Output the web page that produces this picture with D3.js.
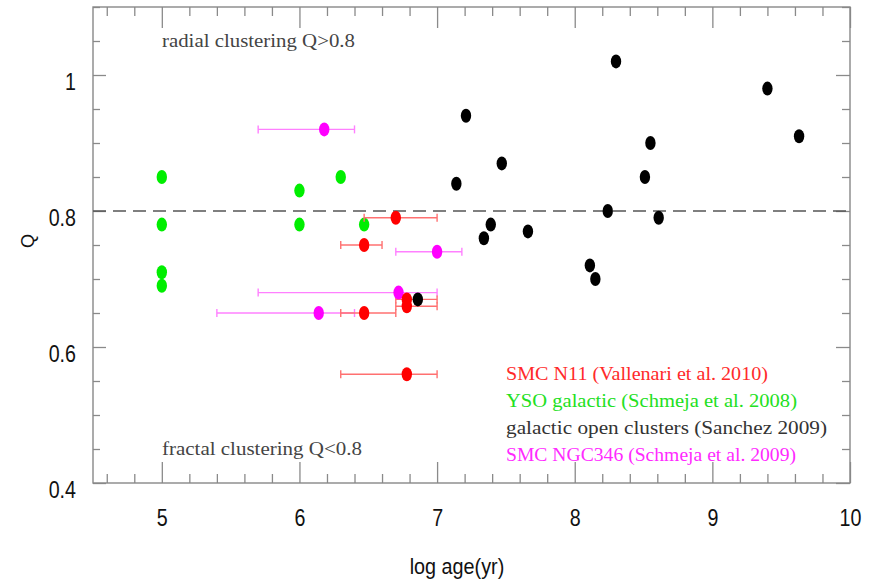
<!DOCTYPE html>
<html>
<head>
<meta charset="utf-8">
<script src="https://cdn.jsdelivr.net/npm/d3@7"></script>
<style>
  body { margin: 0; background: #fff; }
  svg { display: block; }
</style>
</head>
<body>
<div class="chart"></div>
<script>
// data
const ysoAge = [5, 5, 5, 5, 6, 6, 6.3, 6.47]
const ysoQ = [0.85, 0.78, 0.71, 0.69, 0.83, 0.78, 0.85, 0.78]

const ocAge = [6.86, 7.14, 7.21, 7.34, 7.39, 7.47, 7.66, 8.11, 8.15, 8.24, 8.30, 8.51, 8.55, 8.61, 9.40, 9.63]
const ocQ = [0.67, 0.84, 0.94, 0.76, 0.78, 0.87, 0.77, 0.72, 0.70, 0.80, 1.02, 0.85, 0.90, 0.79, 0.98, 0.91]

const n11Age = [6.70, 6.47, 6.47, 6.78, 6.78, 6.78]
const n11Q = [0.79, 0.75, 0.65, 0.67, 0.66, 0.56]
const n11Lo = [6.47, 6.3, 6.3, 6.7, 6.7, 6.3]
const n11Hi = [7.0, 6.6, 6.7, 7.0, 7.0, 7.0]

const ngcAge = [6.18, 7.0, 6.72, 6.14]
const ngcQ = [0.92, 0.74, 0.68, 0.65]
const ngcLo = [5.7, 6.7, 5.7, 5.4]
const ngcHi = [6.4, 7.18, 7.0, 6.4]

const xMajor = [5, 6, 7, 8, 9, 10]
const yMajor = [0.4, 0.6, 0.8, 1]
const yLabels = ["0.4", "0.6", "0.8", "1"]
const threshold = 0.8

const legendLabels = [
  "SMC N11 (Vallenari et al. 2010)",
  "YSO galactic (Schmeja et al. 2008)",
  "galactic open clusters (Sanchez 2009)",
  "SMC NGC346 (Schmeja et al. 2009)"
]
const noteLabels = ["radial clustering Q>0.8", "fractal clustering Q<0.8"]

// layout
const w = 877
const h = 581
const padL = 93, padR = 850, padT = 7, padB = 483
const narrow = 0.82 // horizontal squeeze for the tick numbers

const svg = d3.select(".chart")
  .append("svg")
  .attr("width", w)
  .attr("height", h)

const xScale = d3.scaleLinear().domain([4.5, 10]).range([padL, padR])
const yScale = d3.scaleLinear().domain([0.4, 1.1]).range([padB, padT])

const xMinor = d3.range(46, 100, 2).map(v => v / 10).filter(v => !Number.isInteger(v))
const yMinor = d3.range(40, 111, 5).map(v => v / 100).filter(v => !yMajor.some(m => Math.abs(m - v) < 1e-6))

const tickColor = "#8a8a8a"
const numFont = "'Liberation Sans', Arial, sans-serif"
const serifFont = "'Liberation Serif', 'DejaVu Serif', serif"

// helper to add an axis group and style it
const addAxis = (axis, tx, ty, labels) => {
  const g = svg.append("g")
    .attr("transform", "translate(" + tx + "," + ty + ")")
    .call(axis)
  g.select(".domain").remove()
  g.selectAll("line").attr("stroke", tickColor).attr("stroke-width", 1.3)
  if (!labels) g.selectAll("text").remove()
  else g.selectAll("text")
    .attr("font-family", numFont)
    .attr("font-size", 24)
    .attr("fill", "#111")
  return g
}

// bottom
addAxis(d3.axisBottom(xScale).tickValues(xMajor).tickSize(-21).tickPadding(26)
  .tickFormat(d3.format("d")), 0, padB, true)
  .selectAll("text")
  .attr("dy", "0.71em")
  .attr("transform", "scale(" + narrow + ",1)")
addAxis(d3.axisBottom(xScale).tickValues(xMinor).tickSize(-9), 0, padB, false)
// top
addAxis(d3.axisTop(xScale).tickValues(xMajor).tickSize(-21), 0, padT, false)
addAxis(d3.axisTop(xScale).tickValues(xMinor).tickSize(-9), 0, padT, false)
// left
addAxis(d3.axisLeft(yScale).tickValues(yMajor).tickSize(-13).tickPadding(17)
  .tickFormat((d, i) => yLabels[i]), padL, 0, true)
  .selectAll("text")
  .attr("dy", "0.62em")
  .attr("x", -17 / narrow)
  .attr("transform", "scale(" + narrow + ",1)")
addAxis(d3.axisLeft(yScale).tickValues(yMinor).tickSize(-7), padL, 0, false)
// right
addAxis(d3.axisRight(yScale).tickValues(yMajor).tickSize(-14), padR, 0, false)
addAxis(d3.axisRight(yScale).tickValues(yMinor).tickSize(-8), padR, 0, false)

// frame
svg.append("rect")
  .attr("x", padL).attr("y", padT)
  .attr("width", padR - padL).attr("height", padB - padT)
  .attr("fill", "none")
  .attr("stroke", "#888")
  .attr("stroke-width", 1.4)

// axis titles
svg.append("text")
  .attr("transform", "translate(457,574) scale(0.9,1)")
  .attr("text-anchor", "middle")
  .attr("font-family", "'Liberation Sans', Arial, sans-serif")
  .attr("font-size", 22)
  .attr("fill", "#111")
  .text("log age(yr)")

svg.append("text")
  .attr("transform", "translate(34,241) rotate(-90)")
  .attr("text-anchor", "middle")
  .attr("font-family", "'Liberation Sans', Arial, sans-serif")
  .attr("font-size", 18)
  .attr("fill", "#111")
  .text("Q")

// dashed Q = 0.8 line
svg.append("line")
  .attr("x1", xScale(4.5)).attr("x2", xScale(10))
  .attr("y1", yScale(threshold)).attr("y2", yScale(threshold))
  .attr("stroke", "#555")
  .attr("stroke-width", 1.4)
  .attr("stroke-dasharray", "13,7")

// annotations
const notes = [
  { x: 162, y: 47, len: 193 },
  { x: 162, y: 455, len: 200 }
]
noteLabels.forEach((t, i) => {
  svg.append("text")
    .attr("x", notes[i].x).attr("y", notes[i].y)
    .attr("font-family", serifFont)
    .attr("font-size", 18)
    .attr("fill", "#444")
    .attr("textLength", notes[i].len)
    .attr("lengthAdjust", "spacingAndGlyphs")
    .text(t)
})

// error bars
const errBars = (age, lo, hi, q, color) => {
  const g = svg.append("g").attr("stroke", color).attr("stroke-width", 1.4)
  q.forEach((v, i) => {
    const y = yScale(v)
    g.append("line").attr("x1", xScale(lo[i])).attr("x2", xScale(hi[i])).attr("y1", y).attr("y2", y)
    g.append("line").attr("x1", xScale(lo[i])).attr("x2", xScale(lo[i])).attr("y1", y - 4).attr("y2", y + 4)
    g.append("line").attr("x1", xScale(hi[i])).attr("x2", xScale(hi[i])).attr("y1", y - 4).attr("y2", y + 4)
  })
}

const dots = (age, q, color) => {
  svg.append("g").selectAll("ellipse")
    .data(age)
    .enter()
    .append("ellipse")
    .attr("cx", d => xScale(d))
    .attr("cy", (d, i) => yScale(q[i]))
    .attr("rx", 5.2)
    .attr("ry", 7)
    .attr("fill", color)
}

dots(ysoAge, ysoQ, "#00ee00")
errBars(ngcAge, ngcLo, ngcHi, ngcQ, "#ff80ff")
errBars(n11Age, n11Lo, n11Hi, n11Q, "#ff7070")
dots(ngcAge, ngcQ, "#ff00ff")
dots(n11Age, n11Q, "#ff0000")
dots(ocAge, ocQ, "#000")

// legend
const legendColors = ["#ff2a2a", "#22e022", "#333", "#ff2aff"]
const legendLens = [262, 291, 321, 290]
legendLabels.forEach((t, i) => {
  svg.append("text")
    .attr("x", 506).attr("y", 380 + i * 27)
    .attr("font-family", serifFont)
    .attr("font-size", 19)
    .attr("fill", legendColors[i])
    .attr("textLength", legendLens[i])
    .attr("lengthAdjust", "spacingAndGlyphs")
    .text(t)
})
</script>
</body>
</html>
